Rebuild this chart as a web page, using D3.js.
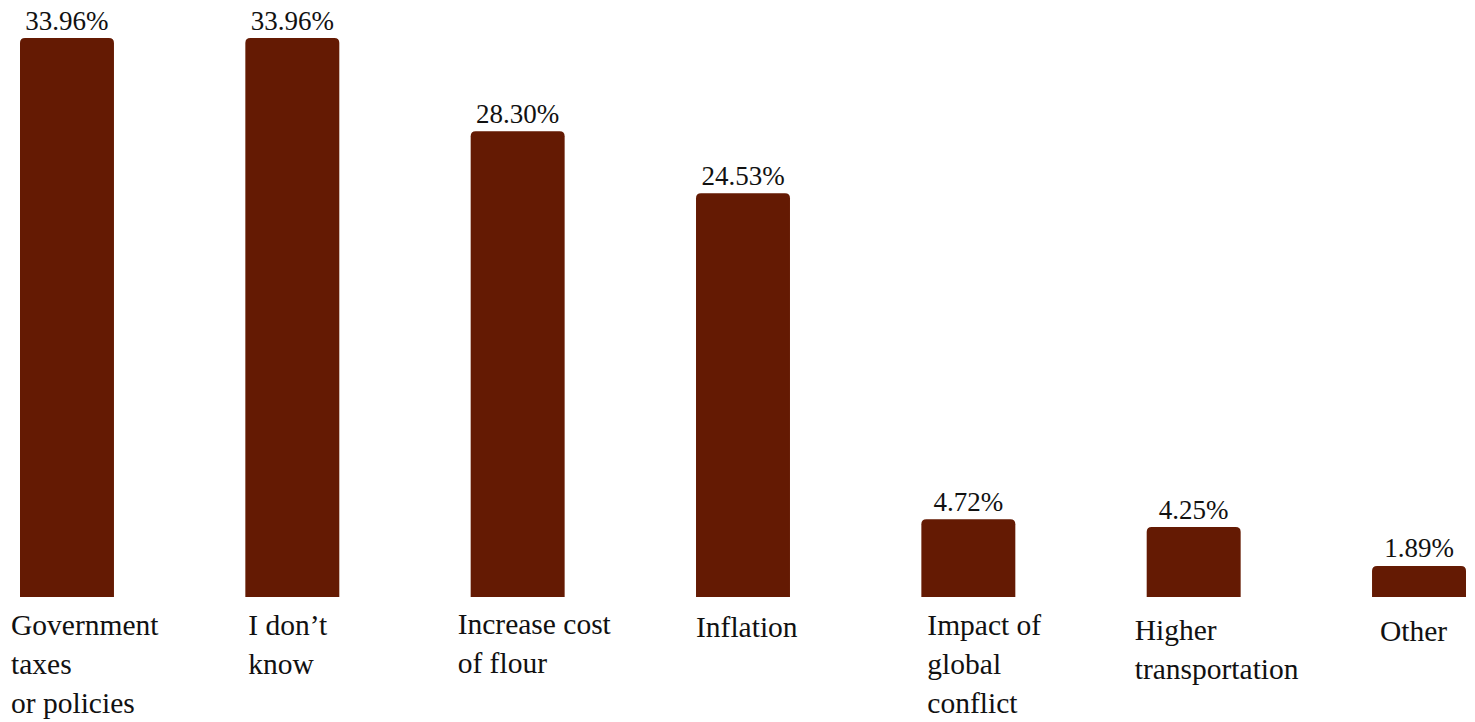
<!DOCTYPE html>
<html>
<head>
<script src="https://cdn.jsdelivr.net/npm/d3@7"></script>
</head>
<body style="margin:0">
<svg id="chart" width="1475" height="722"></svg>
<script>
// Reasons given for higher bread prices (% of respondents)
const categories = [
  "Government taxes or policies",
  "I don\u2019t know",
  "Increase cost of flour",
  "Inflation",
  "Impact of global conflict",
  "Higher transportation",
  "Other"
];
const categoryLines = [
  ["Government", "taxes", "or policies"],
  ["I don\u2019t", "know"],
  ["Increase cost", "of flour"],
  ["Inflation"],
  ["Impact of", "global", "conflict"],
  ["Higher", "transportation"],
  ["Other"]
];
const values = [33.96, 33.96, 28.30, 24.53, 4.72, 4.25, 1.89];
const valueLabels = ["33.96%", "33.96%", "28.30%", "24.53%", "4.72%", "4.25%", "1.89%"];

// Hand placement of the category captions relative to each bar's left edge
const captionShiftX = [-9, 3, -13, 0, 6, -12, 8];
const captionShiftY = [0, 0, -1, 2, 0, 5, 6];

const barColor = "#641a03";
const textColor = "#111";
const baseline = 597;

const svg = d3.select("#chart");

const x = d3.scaleBand()
  .domain(categories)
  .range([20, 1466])
  .paddingInner(0.583)
  .paddingOuter(0);

const y = d3.scaleLinear()
  .domain([0, d3.max(values)])
  .range([baseline, 38]);

// Bar with rounded top corners only
function topRoundedBar(x0, y0, w, h, r) {
  r = Math.min(r, w / 2, h);
  return `M${x0},${y0 + h}` +
         `V${y0 + r}` +
         `Q${x0},${y0} ${x0 + r},${y0}` +
         `H${x0 + w - r}` +
         `Q${x0 + w},${y0} ${x0 + w},${y0 + r}` +
         `V${y0 + h}Z`;
}

const data = categories.map((c, i) => ({ c, v: values[i], i }));

svg.append("g")
  .selectAll("path")
  .data(data)
  .join("path")
  .attr("fill", barColor)
  .attr("d", d => topRoundedBar(x(d.c), y(d.v), x.bandwidth(), baseline - y(d.v), 5));

// Value labels above bars
svg.append("g")
  .selectAll("text")
  .data(data)
  .join("text")
  .attr("x", d => x(d.c) + x.bandwidth() / 2)
  .attr("y", d => y(d.v) - 8.5)
  .attr("text-anchor", "middle")
  .style("font-family", "\"Liberation Serif\"")
  .style("font-size", "27px")
  .style("fill", textColor)
  .text(d => valueLabels[d.i]);

// Category captions below the baseline
const caps = svg.append("g")
  .selectAll("text")
  .data(data)
  .join("text")
  .attr("x", d => x(d.c) + captionShiftX[d.i])
  .attr("y", d => 635 + captionShiftY[d.i])
  .style("font-family", "\"Liberation Serif\"")
  .style("font-size", "29.5px")
  .style("fill", textColor);

caps.selectAll("tspan")
  .data(d => categoryLines[d.i].map(t => ({ t, x: x(d.c) + captionShiftX[d.i] })))
  .join("tspan")
  .attr("x", d => d.x)
  .attr("dy", (d, j) => j === 0 ? 0 : 39)
  .text(d => d.t);
</script>
</body>
</html>
